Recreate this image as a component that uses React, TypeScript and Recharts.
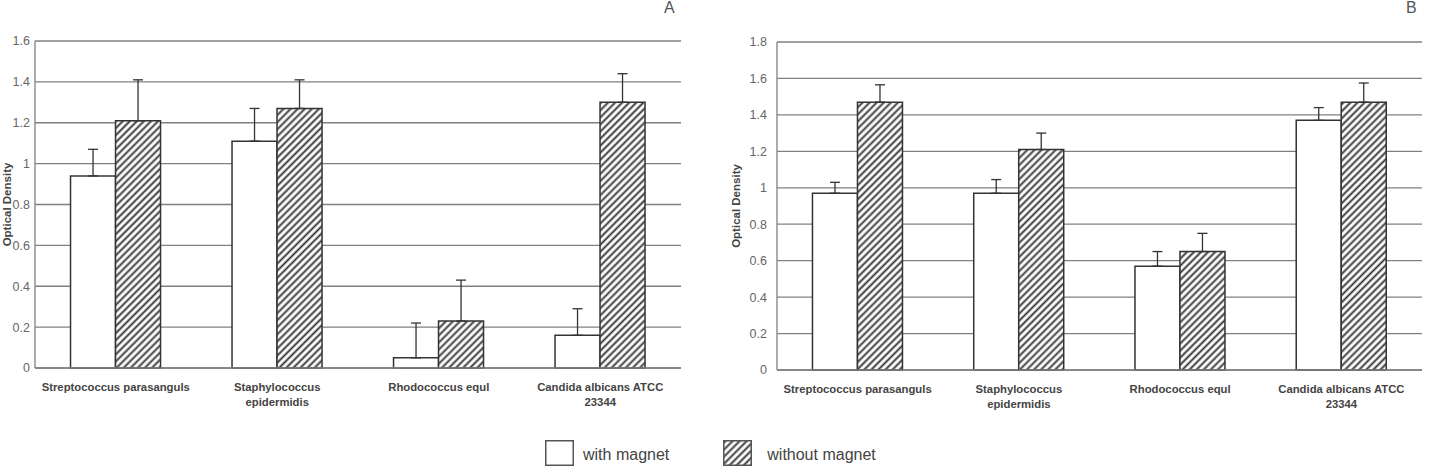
import { BarChart, Bar, XAxis, YAxis, CartesianGrid, ErrorBar, Label } from "recharts";

const categories = [
  "Streptococcus parasanguls",
  "Staphylococcus\nepidermidis",
  "Rhodococcus equl",
  "Candida albicans ATCC\n23344",
];

// panel A
const ticksA = [0, 0.2, 0.4, 0.6, 0.8, 1, 1.2, 1.4, 1.6];
const withMagnetA = [0.94, 1.11, 0.05, 0.16];
const withMagnetErrA = [0.13, 0.16, 0.17, 0.13];
const withoutMagnetA = [1.21, 1.27, 0.23, 1.3];
const withoutMagnetErrA = [0.2, 0.14, 0.2, 0.14];

// panel B
const ticksB = [0, 0.2, 0.4, 0.6, 0.8, 1, 1.2, 1.4, 1.6, 1.8];
const withMagnetB = [0.97, 0.97, 0.57, 1.37];
const withMagnetErrB = [0.06, 0.075, 0.08, 0.07];
const withoutMagnetB = [1.47, 1.21, 0.65, 1.47];
const withoutMagnetErrB = [0.095, 0.09, 0.1, 0.105];

const FONT = '"Liberation Sans", Arial, sans-serif';
const GRID = "#808080";
const INK = "#333";

function buildRows(wv: number[], we: number[], wo: number[], woe: number[]) {
  return categories.map((name, i) => ({
    name,
    withMagnet: wv[i],
    withErr: [0, we[i]],
    withoutMagnet: wo[i],
    withoutErr: [0, woe[i]],
  }));
}

const Hatch = ({ id }: { id: string }) => (
  <pattern id={id} patternUnits="userSpaceOnUse" width={5} height={5} patternTransform="rotate(45)">
    <rect width={5} height={5} fill="#fff" />
    <line x1={2.5} y1={0} x2={2.5} y2={5} stroke={INK} strokeWidth={1.9} />
  </pattern>
);

const CategoryTick = (props: any) => {
  const { x, y, payload } = props;
  const lines = String(payload.value).split("\n");
  return (
    <text x={x} y={y} textAnchor="middle" fontFamily={FONT} fontSize={11.3} fontWeight="bold" fill="#444">
      {lines.map((ln, i) => (
        <tspan key={i} x={x} dy={i === 0 ? 23 : 15}>
          {ln}
        </tspan>
      ))}
    </text>
  );
};

const AxisTitle = (props: any) => {
  const { viewBox, cx } = props;
  const cy = viewBox.y + viewBox.height / 2;
  return (
    <text
      transform={`translate(${cx},${cy}) rotate(-90)`}
      textAnchor="middle"
      dominantBaseline="central"
      fontFamily={FONT}
      fontSize={11.5}
      fontWeight="bold"
      fill="#444"
    >
      Optical Density
    </text>
  );
};

interface PanelProps {
  rows: ReturnType<typeof buildRows>;
  ticks: number[];
  width: number;
  height: number;
  top: number;
  right: number;
  yAxisWidth: number;
  xAxisHeight: number;
  tickGap: number;
  titleX: number;
  hatchId: string;
}

function Panel(p: PanelProps) {
  return (
    <BarChart
      width={p.width}
      height={p.height}
      data={p.rows}
      margin={{ top: p.top, right: p.right, bottom: 0, left: 0 }}
      barCategoryGap="22%"
      barGap={0}
    >
      <defs>
        <Hatch id={p.hatchId} />
      </defs>
      <CartesianGrid vertical={false} stroke={GRID} strokeWidth={1.3} />
      <XAxis
        dataKey="name"
        height={p.xAxisHeight}
        interval={0}
        tickLine={false}
        tickSize={0}
        tickMargin={0}
        axisLine={{ stroke: GRID, strokeWidth: 1.3 }}
        tick={<CategoryTick />}
      />
      <YAxis
        width={p.yAxisWidth}
        domain={[p.ticks[0], p.ticks[p.ticks.length - 1]]}
        ticks={p.ticks}
        interval={0}
        tickLine={false}
        tickSize={0}
        tickMargin={p.tickGap}
        axisLine={{ stroke: GRID, strokeWidth: 1.3 }}
        tick={{ fill: "#666", fontSize: 12.5, fontFamily: FONT }}
      >
        <Label content={(lp: any) => <AxisTitle viewBox={lp.viewBox} cx={p.titleX} />} />
      </YAxis>
      <YAxis
        yAxisId="frame"
        orientation="right"
        width={0}
        tick={false}
        tickLine={false}
        axisLine={{ stroke: GRID, strokeWidth: 1.3 }}
      />
      <Bar dataKey="withMagnet" fill="#fff" stroke={INK} strokeWidth={1.5} isAnimationActive={false}>
        <ErrorBar dataKey="withErr" direction="y" width={5} stroke={INK} strokeWidth={1.3} />
      </Bar>
      <Bar dataKey="withoutMagnet" fill={`url(#${p.hatchId})`} stroke={INK} strokeWidth={1.5} isAnimationActive={false}>
        <ErrorBar dataKey="withoutErr" direction="y" width={5} stroke={INK} strokeWidth={1.3} />
      </Bar>
    </BarChart>
  );
}

const panelLetter = (left: number, text: string) => (
  <div
    style={{
      position: "absolute",
      left,
      top: -1,
      fontFamily: FONT,
      fontSize: 16,
      lineHeight: "18px",
      color: "#555",
    }}
  >
    {text}
  </div>
);

export default function App() {
  const rowsA = buildRows(withMagnetA, withMagnetErrA, withoutMagnetA, withoutMagnetErrA);
  const rowsB = buildRows(withMagnetB, withMagnetErrB, withoutMagnetB, withoutMagnetErrB);

  return (
    <div style={{ position: "absolute", left: 0, top: 0, width: 1440, height: 473, background: "#fff", overflow: "hidden" }}>
      <div style={{ position: "absolute", left: 0, top: 0 }}>
        <Panel
          rows={rowsA}
          ticks={ticksA}
          width={700}
          height={420}
          top={41}
          right={19}
          yAxisWidth={35}
          xAxisHeight={52}
          tickGap={5}
          titleX={7}
          hatchId="hatchA"
        />
      </div>
      <div style={{ position: "absolute", left: 700, top: 0 }}>
        <Panel
          rows={rowsB}
          ticks={ticksB}
          width={740}
          height={420}
          top={42}
          right={18}
          yAxisWidth={77}
          xAxisHeight={50}
          tickGap={10}
          titleX={36}
          hatchId="hatchB"
        />
      </div>
      {panelLetter(664, "A")}
      {panelLetter(1406, "B")}

      <div style={{ position: "absolute", left: 545, top: 440, display: "flex", alignItems: "center", fontFamily: FONT, fontSize: 16, color: "#444" }}>
        <svg width={29} height={26}>
          <rect x={0.75} y={0.75} width={27.5} height={24.5} fill="#fff" stroke="#555" strokeWidth={1.5} />
        </svg>
        <span style={{ marginLeft: 9, marginTop: 4 }}>with magnet</span>
        <svg width={29} height={26} style={{ marginLeft: 54 }}>
          <defs>
            <Hatch id="hatchLegend" />
          </defs>
          <rect x={0.75} y={0.75} width={27.5} height={24.5} fill="url(#hatchLegend)" stroke="#555" strokeWidth={1.5} />
        </svg>
        <span style={{ marginLeft: 15, marginTop: 4 }}>without magnet</span>
      </div>
    </div>
  );
}
